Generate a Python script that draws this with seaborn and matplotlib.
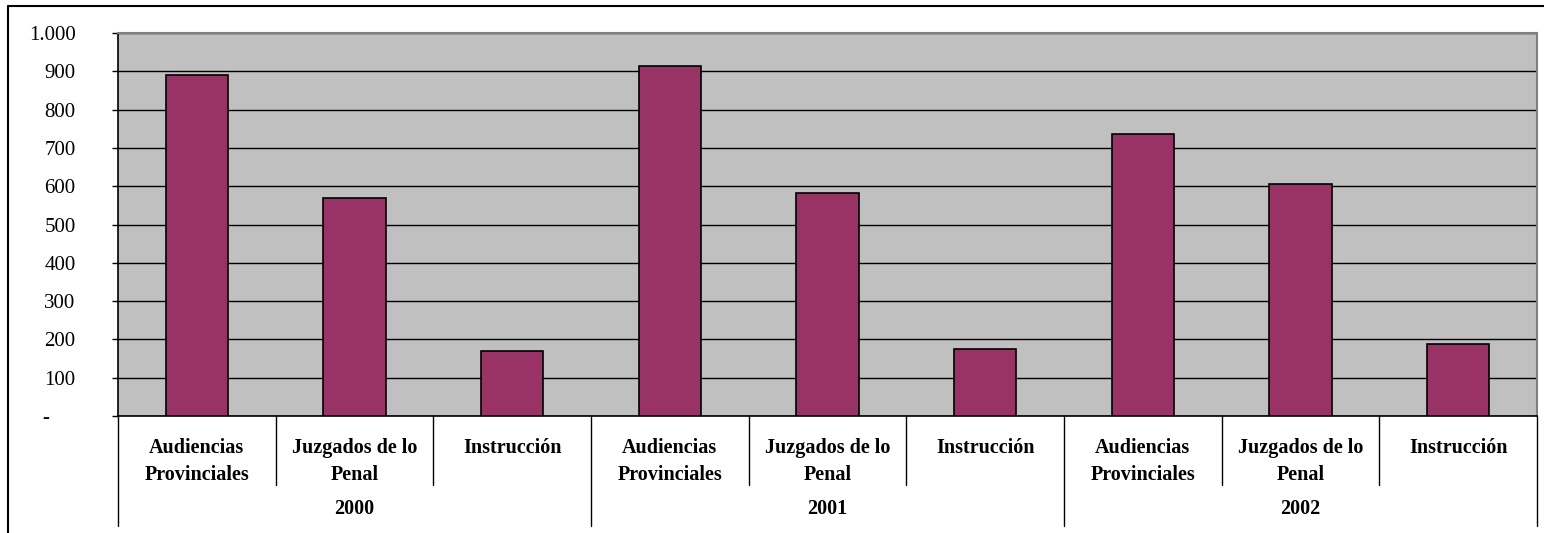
import matplotlib
matplotlib.use("Agg")
import matplotlib.pyplot as plt
import matplotlib.transforms as mtransforms
from matplotlib.ticker import FuncFormatter, MultipleLocator
from matplotlib.lines import Line2D
import seaborn as sns
import pandas as pd

# Datos
anios = ["2000", "2001", "2002"]
organos = ["Audiencias\nProvinciales", "Juzgados de lo\nPenal", "Instrucción"]
valores_2000 = [890, 569, 169]
valores_2001 = [915, 583, 176]
valores_2002 = [737, 605, 189]

W, H = 1544, 533

sns.set_theme(style="white")
plt.rcParams["font.family"] = ["Liberation Serif", "DejaVu Serif"]
plt.rcParams["text.color"] = "black"
plt.rcParams["ytick.color"] = "black"
plt.rcParams["ytick.labelcolor"] = "black"

filas = []
for anio, vals in zip(anios, [valores_2000, valores_2001, valores_2002]):
    for org, v in zip(organos, vals):
        filas.append({"clave": f"{anio}|{org}", "anio": anio, "organo": org, "valor": v})
df = pd.DataFrame(filas)

fig = plt.figure(figsize=(W / 100, H / 100), dpi=100)
x0, x1, y_top, y_axis = 118, 1537, 33, 416
ax = fig.add_axes([x0 / W, 1 - y_axis / H, (x1 - x0) / W, (y_axis - y_top) / H])
ax.set_facecolor("#C0C0C0")

sns.barplot(data=df, x="clave", y="valor", order=df["clave"], color="#993366",
            saturation=1, width=0.395, edgecolor="black", linewidth=1.2, ax=ax, zorder=3)

ax.set_ylim(0, 1000)
ax.set_xlim(-0.5, len(df) - 0.5)
ax.yaxis.set_major_locator(MultipleLocator(100))
ax.yaxis.grid(True, color="black", linewidth=1, zorder=1)
ax.set_axisbelow(True)


def fmt_miles(v, pos):
    if v == 0:
        return "-     "
    return f"{int(v):,}".replace(",", ".")


ax.yaxis.set_major_formatter(FuncFormatter(fmt_miles))
ax.tick_params(axis="y", left=True, length=4.5, width=1, pad=26, labelsize=15,
               color="black", labelcolor="black")
ax.tick_params(axis="x", bottom=False, labelbottom=False)
ax.set_xlabel("")
ax.set_ylabel("")

for s in ["left", "bottom"]:
    ax.spines[s].set_color("black")
    ax.spines[s].set_linewidth(1.2)
for s in ["top", "right"]:
    ax.spines[s].set_color("#808080")
    ax.spines[s].set_linewidth(1.5)

# Eje de categorías en dos niveles
trans = mtransforms.blended_transform_factory(ax.transData, fig.transFigure)


def fy(p):
    return 1 - p / H


for i, org in enumerate(df["organo"]):
    lineas = org.split("\n")
    for j, linea in enumerate(lineas):
        ax.text(i, fy(453 + j * 26.5), linea, transform=trans, ha="center", va="baseline",
                fontsize=14.5, fontweight="bold", color="black", clip_on=False)

n_org = len(organos)
for k, anio in enumerate(anios):
    centro = k * n_org + (n_org - 1) / 2
    ax.text(centro, fy(514), anio, transform=trans, ha="center", va="baseline",
            fontsize=14.5, fontweight="bold", color="black", clip_on=False)

for i in range(len(df) + 1):
    xb = i - 0.5
    fin = 526 if i % n_org == 0 else 485
    fig.add_artist(Line2D([xb, xb], [fy(y_axis), fy(fin)], transform=trans,
                          color="black", linewidth=1))

# Marco exterior del gráfico
fig.add_artist(Line2D([8 / W, 1], [fy(6), fy(6)], transform=fig.transFigure,
                      color="black", linewidth=1.5))
fig.add_artist(Line2D([8 / W, 8 / W], [fy(6), 0], transform=fig.transFigure,
                      color="black", linewidth=1.5))

fig.savefig("out.png", dpi=100)
plt.close(fig)
